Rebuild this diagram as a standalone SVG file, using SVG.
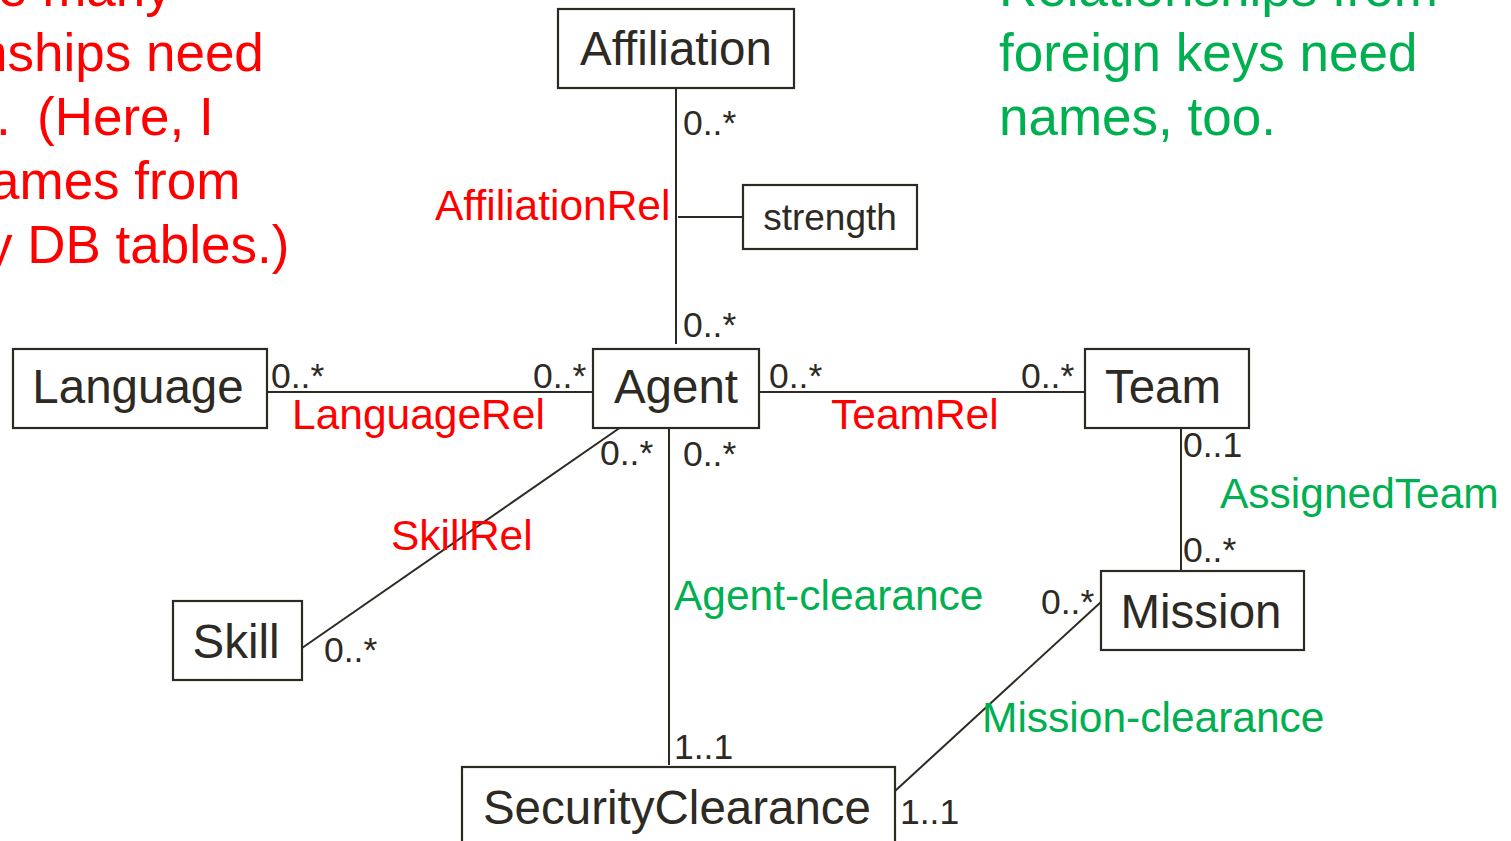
<svg xmlns="http://www.w3.org/2000/svg" width="1511" height="841" viewBox="0 0 1511 841">
  <style>
    text { font-family: "Liberation Sans", Arial, sans-serif; }
    .box { fill: #ffffff; stroke: #2d2a24; stroke-width: 2.2; }
    .name { font-size: 47.5px; fill: #2d2a24; text-anchor: middle; }
    .attr { font-size: 37px; fill: #2d2a24; text-anchor: middle; }
    .link { stroke: #2d2a24; stroke-width: 2; fill: none; }
    .mult { font-size: 35.5px; fill: #2d2a24; }
    .rel { font-size: 42.5px; fill: #ff0000; }
    .fk { font-size: 42.5px; fill: #00b050; }
    .note-red { font-size: 53px; fill: #ff0000; }
    .note-green { font-size: 53px; fill: #00b050; }
  </style>

  <rect width="1511" height="841" fill="#ffffff"/>

  <!-- side notes -->
  <g id="note-many-to-many">
    <text class="note-red" x="-2" y="6">e many</text>
    <text class="note-red" x="-22" y="70.5">nships need</text>
    <text class="note-red" y="134.5"><tspan x="-4">.</tspan><tspan x="37">(Here, I</tspan></text>
    <text class="note-red" x="-10" y="198.7">ames from</text>
    <text class="note-red" x="-14" y="263">y DB tables.)</text>
  </g>
  <g id="note-foreign-keys">
    <text class="note-green" x="999" y="6">Relationships from</text>
    <text class="note-green" x="999" y="70.5">foreign keys need</text>
    <text class="note-green" x="999" y="135">names, too.</text>
  </g>

  <!-- connectors -->
  <g id="connectors">
    <line class="link" x1="676" y1="88" x2="676" y2="344"/>
    <line class="link" x1="678" y1="217" x2="743" y2="217"/>
    <line class="link" x1="268" y1="392" x2="593" y2="392"/>
    <line class="link" x1="759" y1="392" x2="1085" y2="392"/>
    <line class="link" x1="669" y1="428" x2="669" y2="765"/>
    <line class="link" x1="302" y1="648" x2="621" y2="427"/>
    <line class="link" x1="1181" y1="428" x2="1181" y2="571"/>
    <line class="link" x1="895" y1="791" x2="1101" y2="602"/>

    <!-- multiplicities -->
    <text class="mult" x="683" y="135">0..*</text>
    <text class="mult" x="683" y="337">0..*</text>
    <text class="mult" x="271" y="388">0..*</text>
    <text class="mult" x="533" y="388">0..*</text>
    <text class="mult" x="769" y="388">0..*</text>
    <text class="mult" x="1021" y="388">0..*</text>
    <text class="mult" x="600" y="465">0..*</text>
    <text class="mult" x="683" y="466">0..*</text>
    <text class="mult" x="324" y="662">0..*</text>
    <text class="mult" x="1183" y="457">0..1</text>
    <text class="mult" x="1183" y="562">0..*</text>
    <text class="mult" x="1041" y="614">0..*</text>
    <text class="mult" x="674" y="759">1..1</text>
    <text class="mult" x="900" y="824">1..1</text>

    <!-- relationship names -->
    <text class="rel" x="435" y="220">AffiliationRel</text>
    <text class="rel" x="292" y="429">LanguageRel</text>
    <text class="rel" x="831" y="429">TeamRel</text>
    <text class="rel" x="391" y="550">SkillRel</text>
    <text class="fk" x="1220" y="508">AssignedTeam</text>
    <text class="fk" x="674" y="610">Agent-clearance</text>
    <text class="fk" x="982" y="732">Mission-clearance</text>
  </g>

  <!-- entities -->
  <g id="affiliation">
    <rect class="box" x="558" y="9" width="236" height="79"/>
    <text class="name" x="676" y="65">Affiliation</text>
  </g>
  <g id="strength">
    <rect class="box" x="743" y="185" width="174" height="64"/>
    <text class="attr" x="830" y="230">strength</text>
  </g>
  <g id="language">
    <rect class="box" x="13" y="349" width="254" height="79"/>
    <text class="name" x="138" y="403">Language</text>
  </g>
  <g id="agent">
    <rect class="box" x="593" y="349" width="166" height="79"/>
    <text class="name" x="676" y="403">Agent</text>
  </g>
  <g id="team">
    <rect class="box" x="1085" y="349" width="164" height="79"/>
    <text class="name" x="1163" y="403">Team</text>
  </g>
  <g id="skill">
    <rect class="box" x="173" y="601" width="129" height="79"/>
    <text class="name" x="236" y="658">Skill</text>
  </g>
  <g id="mission">
    <rect class="box" x="1101" y="571" width="203" height="79"/>
    <text class="name" x="1201" y="628">Mission</text>
  </g>
  <g id="security-clearance">
    <rect class="box" x="462" y="767" width="433" height="100"/>
    <text class="name" x="677" y="824">SecurityClearance</text>
  </g>
</svg>
